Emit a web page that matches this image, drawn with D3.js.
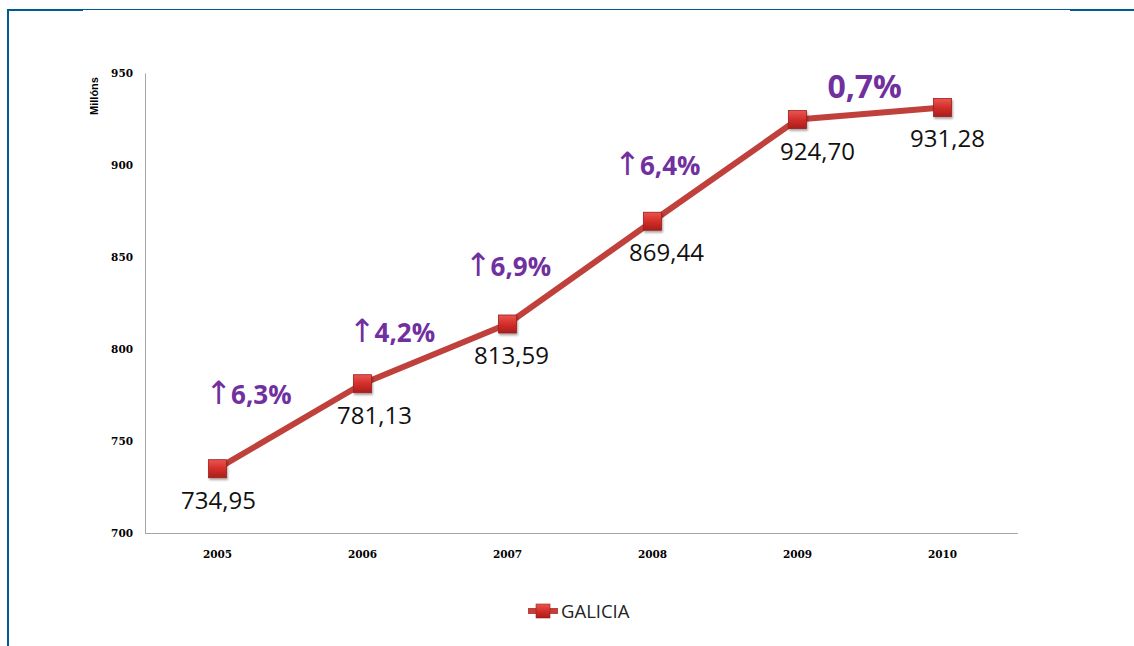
<!DOCTYPE html>
<html><head><meta charset="utf-8">
<script src="https://cdn.jsdelivr.net/npm/d3@7"></script>
<style>body{margin:0;background:#fff}svg{display:block}</style>
</head><body>
<svg id="c" width="1134" height="646"></svg>
<script>
const years = ["2005","2006","2007","2008","2009","2010"];
const values = [734.95, 781.13, 813.59, 869.44, 924.70, 931.28];
const valueLabels = ["734,95","781,13","813,59","869,44","924,70","931,28"];
const growthLabels = ["6,3%","4,2%","6,9%","6,4%","0,7%"];
const growthArrow = [true, true, true, true, false];
const yTicks = [700, 750, 800, 850, 900, 950];
const seriesName = "GALICIA";
const yTitle = "Millóns";

(function(){
const svg = d3.select("#c");
const W = 1134, H = 646;
const pl = 145, pr = 1015, pt = 73, pb = 533;

// annotation placement (category-index units / value units) and label nudges
const annX = [0.22, 1.21, 2.01, 3.04, 4.47];
const annY = [775.0, 809.0, 844.6, 899.5, 942.7];
const labelDx = [1, 12, 4, 14, 20, 5];

// decorative frame
svg.append("rect").attr("x",7).attr("y",9).attr("width",2).attr("height",H-9).attr("fill","#005A96");
svg.append("rect").attr("x",7).attr("y",9).attr("width",76).attr("height",2).attr("fill","#005A96");
svg.append("rect").attr("x",83).attr("y",9).attr("width",987).attr("height",1).attr("fill","#005A96");
svg.append("rect").attr("x",1070).attr("y",9).attr("width",64).attr("height",2).attr("fill","#005A96");

const x = d3.scaleBand().domain(years).range([pl, pr]);
const y = d3.scaleLinear().domain([700, 950]).range([pb, pt]);
const xi = d3.scaleLinear().domain([0, 1]).range([pl + x.bandwidth()/2, pl + x.bandwidth()*1.5]);

const defs = svg.append("defs");
const g1 = defs.append("linearGradient").attr("id","mk").attr("x1",0).attr("y1",0).attr("x2",0).attr("y2",1);
g1.append("stop").attr("offset","0").attr("stop-color","#EA5650");
g1.append("stop").attr("offset","0.5").attr("stop-color","#D42E2A");
g1.append("stop").attr("offset","1").attr("stop-color","#A81E1C");
const f = defs.append("filter").attr("id","sh").attr("x","-50%").attr("y","-50%").attr("width","200%").attr("height","200%");
f.append("feDropShadow").attr("dx",1).attr("dy",2).attr("stdDeviation",1.2).attr("flood-color","#000").attr("flood-opacity",0.35);

// axes
const ya = d3.axisLeft(y).tickValues(yTicks).tickSize(0).tickPadding(12);
const yg = svg.append("g").attr("transform",`translate(${pl},0)`).call(ya);
yg.select(".domain").attr("stroke","#A6A6A6");
yg.selectAll("text").attr("font-family","DejaVu Serif").attr("font-weight","bold").attr("font-size","10.5px").attr("fill","#000");

const xa = d3.axisBottom(x).tickSize(0).tickPadding(18);
const xg = svg.append("g").attr("transform",`translate(0,${pb})`).call(xa);
xg.select(".domain").attr("stroke","#A6A6A6").attr("d",`M${pl},0.5H${pr+3}`);
xg.selectAll("text").attr("font-family","DejaVu Serif").attr("font-weight","bold").attr("font-size","10.5px").attr("fill","#000");

svg.append("text").attr("transform",`translate(98,96) rotate(-90)`).attr("text-anchor","middle")
  .attr("font-family","Liberation Sans").attr("font-weight","bold").attr("font-size","11px")
  .attr("textLength",38).attr("lengthAdjust","spacingAndGlyphs").text(yTitle);

const cx = d => x(d) + x.bandwidth()/2;
const line = d3.line().x((d,i)=>cx(years[i])).y(d=>y(d));
svg.append("path").datum(values).attr("d",line).attr("fill","none").attr("stroke","#C0403C").attr("stroke-width",6).attr("stroke-linejoin","round");

const ms = 18;
svg.selectAll(".mk").data(values).enter().append("rect")
  .attr("x",(d,i)=>cx(years[i])-ms/2).attr("y",d=>y(d)-ms/2).attr("width",ms).attr("height",ms)
  .attr("fill","url(#mk)").attr("stroke","#9E1E1C").attr("stroke-width",0.8).attr("filter","url(#sh)");

svg.selectAll(".vl").data(values).enter().append("text")
  .attr("x",(d,i)=>cx(years[i]) + labelDx[i]).attr("y",d=>y(d)+40)
  .attr("text-anchor","middle").attr("font-family","Open Sans").attr("font-size","24px").attr("fill","#111")
  .text((d,i)=>valueLabels[i]);

// growth annotations
const gt = svg.selectAll(".gr").data(growthLabels).enter().append("text")
  .attr("x",(d,i)=> xi(annX[i]))
  .attr("y",(d,i)=> y(annY[i]))
  .attr("dy","0.35em")
  .attr("text-anchor","middle").attr("font-family","Open Sans").attr("font-weight","bold")
  .attr("font-size",(d,i)=> growthArrow[i] ? "26px" : "32px").attr("fill","#7030A0");
gt.filter((d,i)=>growthArrow[i]).append("tspan")
  .attr("font-family","DejaVu Sans").attr("font-weight","normal").attr("font-size","32px").attr("dx",-1).text("↑");
gt.append("tspan").attr("dx",-1).text(d=>d);

// legend
const lx = 528, ly = 611;
svg.append("line").attr("x1",lx).attr("x2",lx+30).attr("y1",ly).attr("y2",ly).attr("stroke","#C0403C").attr("stroke-width",6);
svg.append("rect").attr("x",lx+8).attr("y",ly-7).attr("width",14).attr("height",14).attr("fill","url(#mk)").attr("stroke","#9E1E1C").attr("stroke-width",0.6);
svg.append("text").attr("x",lx+33).attr("y",ly+7).attr("font-family","Open Sans").attr("font-size","18.5px").attr("fill","#222").text(seriesName);
})();
</script>
</body></html>
